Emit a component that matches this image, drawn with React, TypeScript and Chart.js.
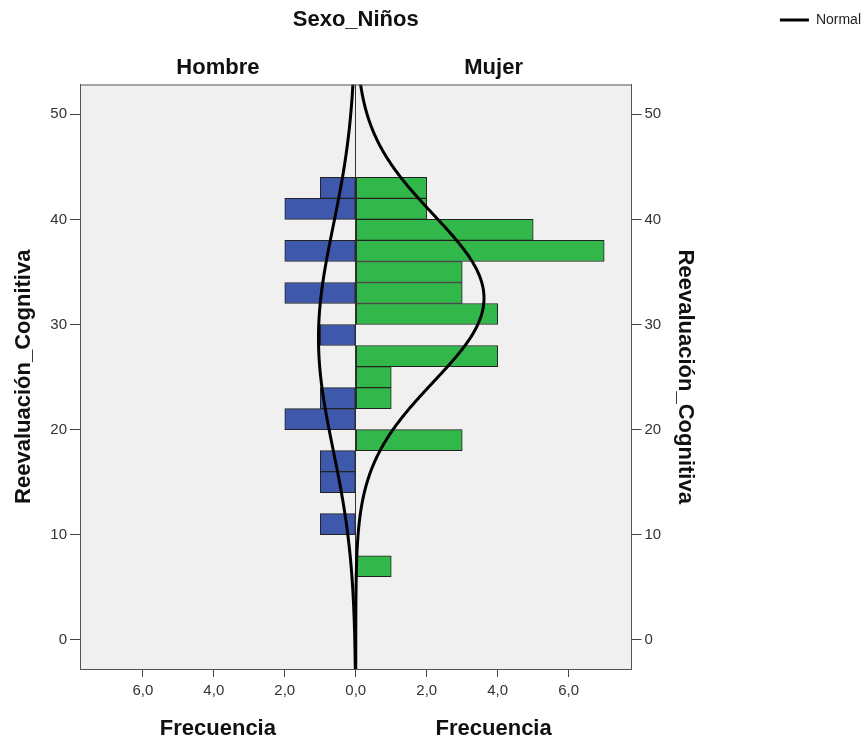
import React, { useEffect, useRef } from 'react';
import { Chart, registerables } from 'chart.js';

Chart.register(...registerables);

// ---- data ----
const binStarts = [6, 8, 10, 12, 14, 16, 18, 20, 22, 24, 26, 28, 30, 32, 34, 36, 38, 40, 42];
const binWidth = 2;
const hombreCounts = [0, 0, 1, 0, 1, 1, 0, 2, 1, 0, 0, 1, 0, 2, 0, 2, 0, 2, 1];
const mujerCounts = [1, 0, 0, 0, 0, 0, 3, 0, 1, 1, 4, 0, 4, 3, 3, 7, 5, 2, 2];
const xTickValues = [-6, -4, -2, 0, 2, 4, 6];
const yTickValues = [0, 10, 20, 30, 40, 50];
const groupLabels = ['Hombre', 'Mujer'];
const chartTitle = 'Sexo_Niños';
const yTitle = 'Reevaluación_Cognitiva';
const xTitle = 'Frecuencia';
const legendLabel = 'Normal';
const yRange = [-2.78, 52.84];
const xRange = [-7.77, 7.77];

const FONT = "'Liberation Sans', Arial, Helvetica, sans-serif";

function groupStats(counts: number[]) {
  let n = 0;
  let s = 0;
  counts.forEach((c, i) => {
    n += c;
    s += c * (binStarts[i] + binWidth / 2);
  });
  const mean = s / n;
  let v = 0;
  counts.forEach((c, i) => {
    const d = binStarts[i] + binWidth / 2 - mean;
    v += c * d * d;
  });
  return { n, mean, sd: Math.sqrt(v / (n - 1)) };
}

function normalCurve(counts: number[], sign: number) {
  const { n, mean, sd } = groupStats(counts);
  const pts: { x: number; y: number }[] = [];
  for (let y = yRange[0] - 0.5; y <= yRange[1] + 1; y += 0.25) {
    const z = (y - mean) / sd;
    const f = (n * binWidth * Math.exp(-0.5 * z * z)) / (sd * Math.sqrt(2 * Math.PI));
    pts.push({ x: sign * f, y });
  }
  return pts;
}

function barPoints(counts: number[], sign: number) {
  return binStarts
    .map((s, i) => ({ x: sign * counts[i], y: s + binWidth / 2 }))
    .filter((p) => p.x !== 0);
}

const panelPlugin = {
  id: 'panelDecor',
  beforeDraw(chart: any) {
    const { ctx, chartArea } = chart;
    ctx.save();
    ctx.fillStyle = '#F0F0F0';
    ctx.fillRect(chartArea.left, chartArea.top, chartArea.right - chartArea.left, chartArea.bottom - chartArea.top);
    ctx.restore();
  },
  afterDraw(chart: any) {
    const { ctx, chartArea } = chart;
    const x0 = chart.scales.x.getPixelForValue(0);
    const leftC = (chartArea.left + x0) / 2;
    const rightC = (x0 + chartArea.right) / 2;
    ctx.save();
    ctx.strokeStyle = '#555';
    ctx.lineWidth = 1;
    ctx.beginPath();
    ctx.moveTo(chartArea.left, chartArea.top + 0.5);
    ctx.lineTo(chartArea.right, chartArea.top + 0.5);
    ctx.stroke();
    ctx.fillStyle = '#111';
    ctx.font = `bold 22px ${FONT}`;
    ctx.textAlign = 'center';
    ctx.textBaseline = 'alphabetic';
    ctx.fillText(groupLabels[0], leftC, 73.5);
    ctx.fillText(groupLabels[1], rightC, 73.5);
    ctx.fillText(xTitle, leftC, 735);
    ctx.fillText(xTitle, rightC, 735);
    ctx.restore();
  },
};

export default function App() {
  const ref = useRef<HTMLCanvasElement | null>(null);

  useEffect(() => {
    if (!ref.current) return;
    const tickFont = { family: FONT, size: 15 };
    const titleFont = { family: FONT, size: 22, weight: 'bold' as const };
    const yTicksBuild = (s: any) => {
      s.ticks = yTickValues.map((v) => ({ value: v }));
    };
    const chart = new Chart(ref.current, {
      data: {
        datasets: [
          {
            type: 'line',
            label: legendLabel,
            data: normalCurve(mujerCounts, 1),
            borderColor: '#000',
            borderWidth: 3,
            pointRadius: 0,
            pointBorderWidth: 3,
            pointBorderColor: '#000',
            tension: 0.2,
            order: 0,
            xAxisID: 'x',
            yAxisID: 'y',
          },
          {
            type: 'line',
            label: legendLabel,
            data: normalCurve(hombreCounts, -1),
            borderColor: '#000',
            borderWidth: 3,
            pointRadius: 0,
            tension: 0.2,
            order: 0,
            xAxisID: 'x',
            yAxisID: 'y',
          },
          {
            type: 'bar',
            label: groupLabels[0],
            data: barPoints(hombreCounts, -1),
            backgroundColor: '#3E58AC',
            borderColor: '#222',
            borderWidth: 1,
            borderSkipped: false,
            barPercentage: 1,
            categoryPercentage: 1,
            grouped: false,
            order: 1,
            xAxisID: 'x',
            yAxisID: 'y',
          },
          {
            type: 'bar',
            label: groupLabels[1],
            data: barPoints(mujerCounts, 1),
            backgroundColor: '#32B74B',
            borderColor: '#222',
            borderWidth: 1,
            borderSkipped: false,
            barPercentage: 1,
            categoryPercentage: 1,
            grouped: false,
            order: 1,
            xAxisID: 'x',
            yAxisID: 'y',
          },
        ] as any,
      },
      options: {
        indexAxis: 'y',
        animation: false,
        responsive: false,
        events: [],
        layout: { padding: 0 },
        plugins: {
          title: {
            display: true,
            text: chartTitle,
            fullSize: false,
            font: titleFont,
            color: '#111',
            padding: { top: 6.3, bottom: 51.8 },
          },
          legend: {
            position: 'right',
            align: 'start',
            labels: {
              filter: (item: any) => item.datasetIndex === 0,
              usePointStyle: true,
              pointStyle: 'line',
              pointStyleWidth: 29,
              padding: 13,
              font: { family: FONT, size: 14 },
              color: '#222',
            },
          },
          tooltip: { enabled: false },
        },
        scales: {
          x: {
            type: 'linear',
            position: 'bottom',
            min: xRange[0],
            max: xRange[1],
            offset: false,
            afterBuildTicks: (s: any) => {
              s.ticks = xTickValues.map((v) => ({ value: v }));
            },
            ticks: {
              callback: (v: any) => Math.abs(Number(v)).toFixed(1).replace('.', ','),
              font: tickFont,
              color: '#333',
              padding: 5,
              maxRotation: 0,
              autoSkip: false,
            },
            grid: {
              offset: false,
              color: (c: any) => (c.tick && c.tick.value === 0 ? '#333' : 'rgba(0,0,0,0)'),
              tickColor: '#444',
              tickLength: 8,
              lineWidth: 1,
            },
            border: { color: '#555' },
            afterFit: (s: any) => {
              s.height = 70;
            },
          },
          y: {
            type: 'linear',
            position: 'left',
            min: yRange[0],
            max: yRange[1],
            offset: false,
            afterBuildTicks: yTicksBuild,
            ticks: { font: tickFont, color: '#333', padding: 3 },
            grid: { offset: false, drawOnChartArea: false, tickLength: 10, tickColor: '#444' },
            border: { color: '#555' },
            title: { display: true, text: yTitle, font: titleFont, color: '#111', padding: { top: 10.8, bottom: 0 } },
            afterFit: (s: any) => {
              s.width = 80;
            },
          },
          y2: {
            type: 'linear',
            position: 'right',
            min: yRange[0],
            max: yRange[1],
            offset: false,
            afterBuildTicks: yTicksBuild,
            ticks: { font: tickFont, color: '#333', padding: 3 },
            grid: { offset: false, drawOnChartArea: false, tickLength: 10, tickColor: '#444' },
            border: { color: '#555' },
            title: { display: true, text: yTitle, font: titleFont, color: '#111', padding: { top: 68.7, bottom: 0 } },
            afterFit: (s: any) => {
              const lw = s.chart.legend ? s.chart.legend.width : 103;
              s.width = s.chart.width - 631.5 - lw;
            },
          },
        },
      } as any,
      plugins: [panelPlugin],
    });
    return () => chart.destroy();
  }, []);

  return (
    <div style={{ position: 'fixed', left: 0, top: 0, width: 866, height: 739, overflow: 'hidden', background: '#fff' }}>
      <canvas ref={ref} width={871} height={739} style={{ display: 'block' }} />
    </div>
  );
}
